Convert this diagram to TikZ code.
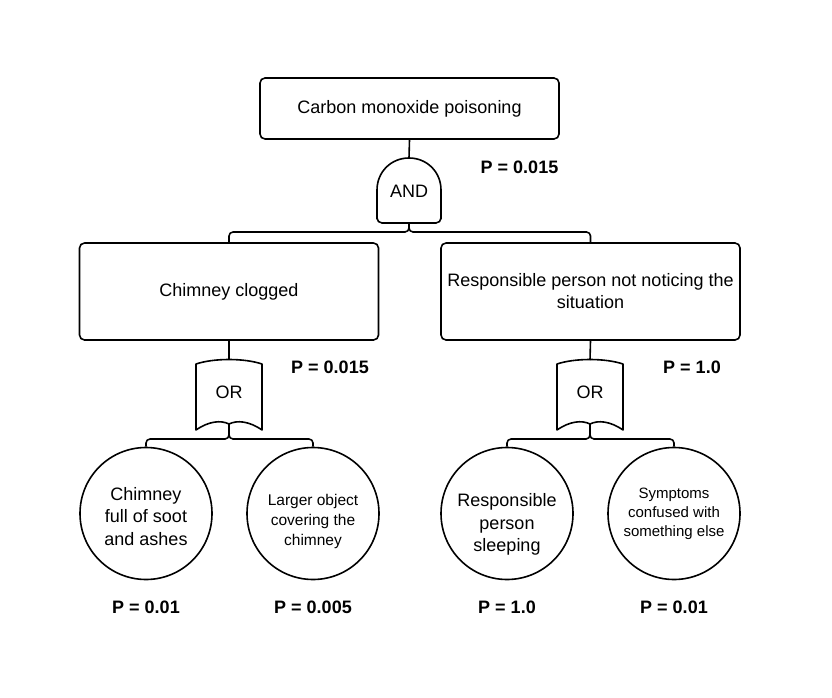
\documentclass[tikz,border=0pt]{standalone}
\usepackage{fontspec}
\setmainfont{Liberation Sans}
\begin{document}
\begin{tikzpicture}[x=1pt,y=-1pt,
  ln/.style={line width=1.6pt,line join=round},
  evbox/.style={ln,draw,rounded corners=5pt,minimum width=299pt,align=center,font=\fontsize{18}{22}\selectfont},
  evcirc/.style={ln,draw,circle,minimum size=132pt,inner sep=0pt},
  ctext/.style={align=center,inner sep=0pt},
  big/.style={font=\fontsize{18}{22.5}\selectfont},
  prob/.style={font=\bfseries\fontsize{18}{20}\selectfont},
  gatelbl/.style={font=\fontsize{18}{20}\selectfont,inner sep=0pt}
]
\useasboundingbox (0,0) rectangle (832,698);
% boxes
\node[evbox,minimum height=61pt] (top) at (409.5,108.5) {Carbon monoxide poisoning};
\node[evbox,minimum height=97pt] (ml) at (229,291.5) {Chimney clogged};
\node[evbox,minimum height=97pt] (mr) at (590.5,291.5) {Responsible person not noticing the\\situation};
% circles
\node[evcirc] (c1) at (146,513.5) {};
\node[evcirc] (c2) at (313,513.5) {};
\node[evcirc] (c3) at (507,513.5) {};
\node[evcirc] (c4) at (674,513.5) {};
\node[ctext,big] (t1) at ([yshift=-3pt]c1.center) {Chimney\\full of soot\\and ashes};
\node[ctext,font=\fontsize{15.5}{20}\selectfont] (t2) at ([yshift=-8pt]c2.center) {Larger object\\covering the\\chimney};
\node[ctext,big] (t3) at ([yshift=-11pt]c3.center) {Responsible\\person\\sleeping};
\node[ctext,font=\fontsize{15}{19}\selectfont] (t4) at (c4.center) {Symptoms\\confused with\\something else};
% AND gate
\draw[ln] (377,190) -- (377,219) [rounded corners=5pt] -- (377,223) -- (441,223) [sharp corners] -- (441,219) -- (441,190)
  .. controls (441,172) and (427,158) .. (409,158) .. controls (391,158) and (377,172) .. (377,190) -- cycle;
\node[gatelbl] (and) at (409,191) {AND};
\coordinate (andtop) at (409,158);
\coordinate (andbot) at (409,223);
\coordinate (jand) at (409,232);
% OR gates
\foreach \c/\n in {229/orl,590/orr}{
  \draw[ln] (\c-33,364) .. controls (\c-15,358) and (\c+15,358) .. (\c+33,364) -- (\c+33,430)
    .. controls (\c+20,421) and (\c+8,420) .. (\c,424) .. controls (\c-8,420) and (\c-20,421) .. (\c-33,430) -- cycle;
  \node[gatelbl] (\n) at (\c,392) {OR};
  \coordinate (\n top) at (\c,360);
  \coordinate (\n bot) at (\c,424);
  \coordinate (\n j) at (\c,439);
}
% connectors
\draw[ln] (top.south) -- (andtop);
\draw[ln,rounded corners=4pt] (ml.north) |- (jand) -- (andbot);
\draw[ln,rounded corners=4pt] (mr.north) |- (jand) -- (andbot);
\draw[ln] (ml.south) -- (orltop);
\draw[ln] (mr.south) -- (orrtop);
\draw[ln,rounded corners=4pt] (c1.north) |- (orlj) -- (orlbot);
\draw[ln,rounded corners=4pt] (c2.north) |- (orlj) -- (orlbot);
\draw[ln,rounded corners=4pt] (c3.north) |- (orrj) -- (orrbot);
\draw[ln,rounded corners=4pt] (c4.north) |- (orrj) -- (orrbot);
% probabilities
\node[prob] (p0) at (519.5,167) {P = 0.015};
\node[prob] (p1) at (330,367) {P = 0.015};
\node[prob] (p2) at (692,367) {P = 1.0};
\node[prob] (p3) at (146,607) {P = 0.01};
\node[prob] (p4) at (313,607) {P = 0.005};
\node[prob] (p5) at (507,607) {P = 1.0};
\node[prob] (p6) at (674,607) {P = 0.01};
\end{tikzpicture}
\end{document}
